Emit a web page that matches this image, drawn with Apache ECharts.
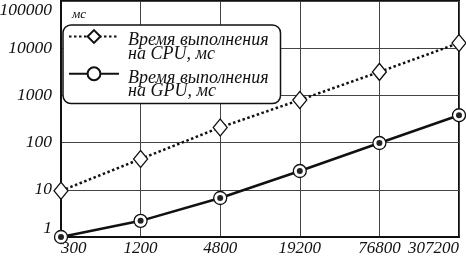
<!DOCTYPE html>
<html><head><meta charset="utf-8">
<script src="https://cdn.jsdelivr.net/npm/echarts@6/dist/echarts.min.js"></script>
<style>html,body{margin:0;padding:0;background:#fff}#c{width:466px;height:259px}</style>
</head><body><div id="c"></div>
<script>
const categories = ['300', '1200', '4800', '19200', '76800', '307200'];
const cpuValues = [9.5, 45, 210, 800, 3150, 12900];
const gpuValues = [1, 2.2, 6.7, 25, 98, 380];
const cpuName = 'Время выполнения\nна CPU, мс';
const gpuName = 'Время выполнения\nна GPU, мс';
const yUnit = 'мс';
const yMin = 1, yMax = 100000;

const font = "'Liberation Serif', 'DejaVu Serif', serif";
const chart = echarts.init(document.getElementById('c'));
chart.setOption({
  animation: false,
  backgroundColor: '#fff',
  title: { text: yUnit, left: 67, top: 3, textStyle: { fontFamily: font, fontStyle: 'italic', fontWeight: 'normal', fontSize: 13, color: '#111' } },
  grid: { left: 61, right: 7, top: 1, bottom: 22, show: true, borderColor: '#111', borderWidth: 2, containLabel: false, outerBoundsMode: 'none' },
  legend: {
    orient: 'vertical', left: 63, top: 25,
    data: [cpuName, gpuName],
    backgroundColor: '#fff', borderColor: '#111', borderWidth: 1.5, borderRadius: 8,
    padding: [-4, 12, 3, 5], itemGap: -5, itemWidth: 50, itemHeight: 16,
    formatter: name => '{e| }\n' + name.split('\n').map(s => '{t|' + s + '}').join('\n'),
    textStyle: {
      fontFamily: font, fontStyle: 'italic', fontSize: 18, color: '#111',
      rich: {
        e: { fontSize: 4, lineHeight: 22 },
        t: { fontFamily: font, fontStyle: 'italic', fontSize: 18, lineHeight: 13.5, color: '#111', padding: [0, 0, 0, 4] }
      }
    }
  },
  xAxis: {
    type: 'category', data: categories, boundaryGap: false,
    axisLine: { lineStyle: { color: '#111', width: 2 } },
    axisTick: { show: false },
    splitLine: { show: true, lineStyle: { color: '#444', width: 1 } },
    axisLabel: { fontFamily: font, fontStyle: 'italic', fontSize: 17, color: '#111', margin: 3, alignMinLabel: 'left', alignMaxLabel: 'right' }
  },
  yAxis: {
    type: 'log', logBase: 10, min: yMin, max: yMax,
    axisLine: { show: true, lineStyle: { color: '#111', width: 2 } },
    axisTick: { show: false },
    splitLine: { show: true, lineStyle: { color: '#444', width: 1 } },
    axisLabel: { fontFamily: font, fontStyle: 'italic', fontSize: 17.5, color: '#111', margin: 9,
      verticalAlignMaxLabel: 'top', verticalAlignMinLabel: 'bottom',
      formatter: v => String(Math.round(v)) }
  },
  series: [
    { name: cpuName, type: 'line', data: cpuValues, z: 3,
      lineStyle: { color: '#111', width: 2.5, type: [2.5, 2.5] },
      symbol: 'diamond', symbolSize: [14, 17],
      itemStyle: { color: '#fff', borderColor: '#111', borderWidth: 1.3 } },
    { name: gpuName, type: 'line', data: gpuValues, z: 3,
      lineStyle: { color: '#111', width: 2.5 },
      symbol: 'circle', symbolSize: 13,
      itemStyle: { color: '#fff', borderColor: '#111', borderWidth: 1.3 } },
    { name: 'gpuDots', type: 'line', data: gpuValues, z: 4, silent: true,
      lineStyle: { width: 0, opacity: 0 },
      symbol: 'circle', symbolSize: 6,
      itemStyle: { color: '#222', borderWidth: 0 } }
  ]
});
</script></body></html>
